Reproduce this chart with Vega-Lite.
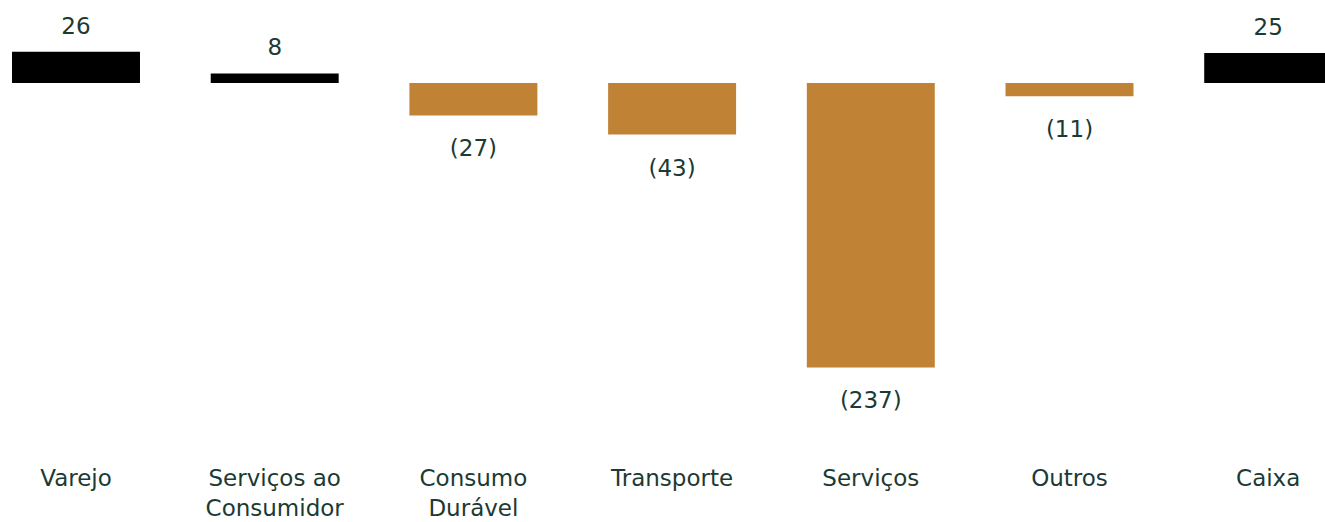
{
  "$schema": "https://vega.github.io/schema/vega-lite/v6.json",
  "width": 1325,
  "height": 455,
  "autosize": "none",
  "padding": {"top": 0, "left": 0, "right": 0, "bottom": 67},
  "background": "white",
  "config": {"view": {"stroke": null}, "font": "DejaVu Sans"},
  "data": {"values": [
    {"category": "Varejo", "value": 26, "label": "26"},
    {"category": "Serviços ao Consumidor", "value": 8, "label": "8"},
    {"category": "Consumo Durável", "value": -27, "label": "(27)"},
    {"category": "Transporte", "value": -43, "label": "(43)"},
    {"category": "Serviços", "value": -237, "label": "(237)"},
    {"category": "Outros", "value": -11, "label": "(11)"},
    {"category": "Caixa", "value": 25, "label": "25"}
  ]},
  "encoding": {
    "x": {
      "field": "category", "type": "nominal", "sort": null,
      "scale": {"range": [-23.35, 1367.55], "paddingInner": 0.356, "paddingOuter": 0.178},
      "axis": {
        "title": null, "domain": false, "ticks": false, "labelAngle": 0,
        "labelFontSize": 23, "labelColor": "#1B3A34", "labelPadding": 12,
        "labelLineHeight": 30, "labelLimit": 400, "labelBaseline": "top",
        "labelExpr": "datum.label == 'Serviços ao Consumidor' ? ['Serviços ao', 'Consumidor'] : datum.label == 'Consumo Durável' ? ['Consumo', 'Durável'] : datum.label"
      }
    },
    "y": {
      "field": "value", "type": "quantitative",
      "scale": {"domain": [-250, 50], "range": [383, 23], "nice": false, "zero": true},
      "axis": null
    }
  },
  "layer": [
    {
      "mark": {"type": "bar"},
      "encoding": {
        "color": {"condition": {"test": "datum.value < 0", "value": "#C08235"}, "value": "#000000"}
      }
    },
    {
      "transform": [{"filter": "datum.value >= 0"}],
      "mark": {"type": "text", "baseline": "middle", "dy": -25, "fontSize": 23, "color": "#1B3A34"},
      "encoding": {"text": {"field": "label"}}
    },
    {
      "transform": [{"filter": "datum.value < 0"}],
      "mark": {"type": "text", "baseline": "middle", "dy": 34, "fontSize": 23, "color": "#1B3A34"},
      "encoding": {"text": {"field": "label"}}
    }
  ]
}
